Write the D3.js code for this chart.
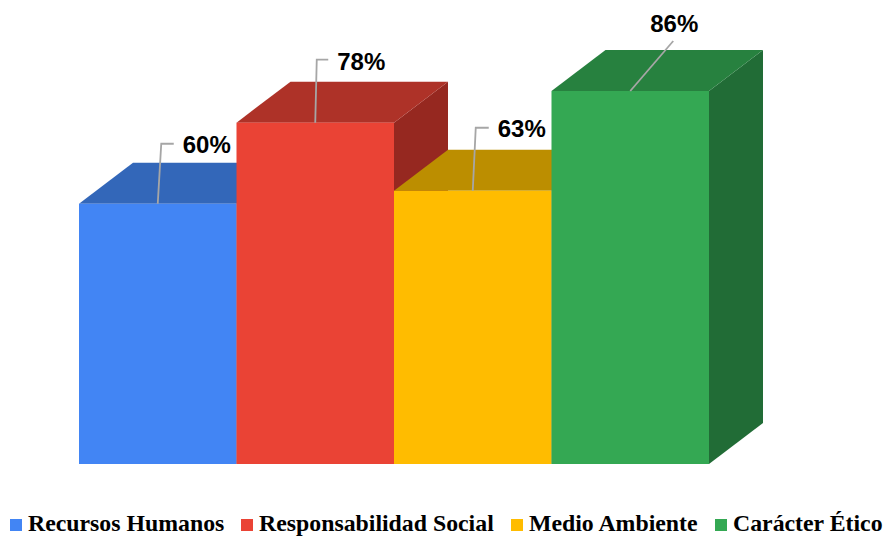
<!DOCTYPE html>
<html>
<head>
<meta charset="utf-8">
<script src="https://cdn.jsdelivr.net/npm/d3@7"></script>
<style>
  html, body { margin: 0; padding: 0; background: #fff; }
  svg { display: block; }
  .value { font: bold 24px "Liberation Sans", Arial, sans-serif; fill: #000; }
  .legend { font: bold 23.8px "Liberation Serif", "Times New Roman", serif; fill: #000; }
</style>
</head>
<body>
<svg id="chart" width="883" height="536"></svg>
<script>
const categories = ['Recursos Humanos', 'Responsabilidad Social', 'Medio Ambiente', 'Carácter Ético'];
const values = [60, 78.7, 63, 86];
const valueLabels = ['60%', '78%', '63%', '86%'];
const frontColors = ['#4285f4', '#ea4335', '#ffbc00', '#34a853'];
const topColors = ['#3367b9', '#ae3228', '#bc8e00', '#27813f'];
const sideColors = ['#2c5aa4', '#962820', '#a37b00', '#216c36'];

const depthX = 54, depthY = 41;

const svg = d3.select('#chart');
const x = d3.scaleBand().domain(categories).range([79, 709]);
const y = d3.scaleLinear().domain([0, 86]).range([464, 91]);

const line = d3.line();

// painter's order, left to right, so each box covers the side of the last
const bars = svg.append('g').selectAll('g')
  .data(categories)
  .enter()
  .append('g');

bars.append('path')
  .attr('fill', (d, i) => sideColors[i])
  .attr('d', (d, i) => {
    const r = x(d) + x.bandwidth(), t = y(values[i]), b = y(0);
    return line([[r, t], [r + depthX, t - depthY], [r + depthX, b - depthY], [r, b]]) + 'Z';
  });

bars.append('path')
  .attr('fill', (d, i) => topColors[i])
  .attr('d', (d, i) => {
    const l = x(d), r = l + x.bandwidth(), t = y(values[i]);
    return line([[l, t], [l + depthX, t - depthY], [r + depthX, t - depthY], [r, t]]) + 'Z';
  });

bars.append('rect')
  .attr('x', d => x(d))
  .attr('y', (d, i) => y(values[i]))
  .attr('width', x.bandwidth())
  .attr('height', (d, i) => y(0) - y(values[i]))
  .attr('fill', (d, i) => frontColors[i]);

// leader lines and labels, placement per bar relative to the bar top
const leaderOffsets = [
  [[0, 0], [3.5, -60], [16, -60]],
  [[0, 0], [1.5, -63], [13, -63]],
  [[0, 0], [3, -63], [16, -63]],
  [[0, 0], [43, -50]]
];
const labelOffsets = [[25, -50.5], [22, -53], [25, -53.5], [20, -59]];

const leaders = svg.append('g');
categories.forEach((d, i) => {
  const cx = x(d) + x.bandwidth() / 2, t = y(values[i]);
  leaders.append('path')
    .attr('fill', 'none')
    .attr('stroke', '#a6a6a6')
    .attr('stroke-width', 1.8)
    .attr('d', line(leaderOffsets[i].map(p => [cx + p[0], t + p[1]])));
  leaders.append('text')
    .attr('class', 'value')
    .attr('x', cx + labelOffsets[i][0])
    .attr('y', t + labelOffsets[i][1])
    .text(valueLabels[i]);
});

// legend along the bottom
const legendSwatchX = [10, 241, 511, 715];
const legend = svg.append('g').selectAll('g')
  .data(categories)
  .enter()
  .append('g')
  .attr('transform', (d, i) => `translate(${legendSwatchX[i]},519)`);

legend.append('rect')
  .attr('width', 12)
  .attr('height', 12)
  .attr('fill', (d, i) => frontColors[i]);

legend.append('text')
  .attr('class', 'legend')
  .attr('x', 18)
  .attr('y', 12)
  .text(d => d);
</script>
</body>
</html>
